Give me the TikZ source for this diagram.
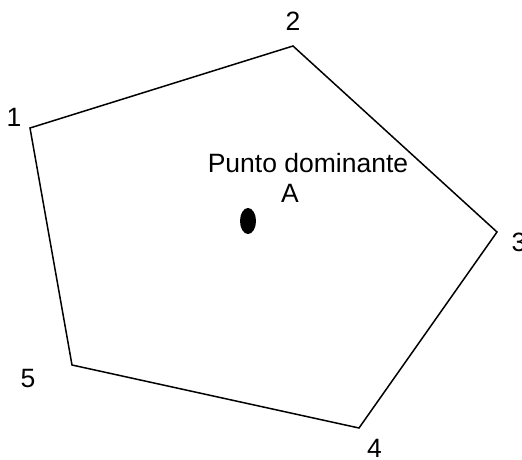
\documentclass[tikz,border=0pt]{standalone}
\usepackage{fontspec}
\setmainfont{Liberation Sans}
\begin{document}
\begin{tikzpicture}[x=1pt,y=-1pt,
  lbl/.style={font=\fontsize{26.5}{30}\selectfont, inner sep=0pt},
  edge/.style={line width=1.5pt, line join=miter}]
\useasboundingbox (0,0) rectangle (522,460);
\clip (0,0) rectangle (522,460);
\coordinate (v1) at (30,128);
\coordinate (v2) at (293,46);
\coordinate (v3) at (497,232);
\coordinate (v4) at (359,428);
\coordinate (v5) at (72,365);
\draw[edge] (v1) -- (v2) -- (v3) -- (v4) -- (v5) -- cycle;
\node[lbl] (l1) at (14,117) {1};
\node[lbl] (l2) at (293,21) {2};
\node[lbl] (l3) at (519,242) {3};
\node[lbl] (l4) at (374.5,448.5) {4};
\node[lbl] (l5) at (28,379) {5};
\node[lbl] (pd) at (308,163) {Punto dominante};
\node[lbl] (a) at (290,193) {A};
\fill (248,221) ellipse [x radius=8, y radius=13];
\end{tikzpicture}
\end{document}
